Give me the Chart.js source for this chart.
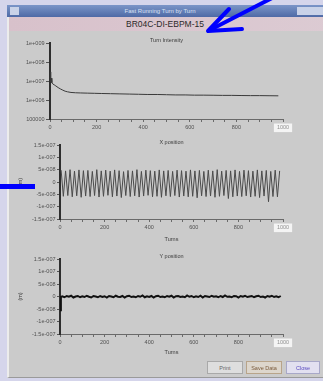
<!DOCTYPE html>
<html>
<head>
<meta charset="utf-8">
<title>Fast Running Turn by Turn</title>
<script src="https://cdn.jsdelivr.net/npm/chart.js@4.4.1/dist/chart.umd.min.js"></script>
<style>
  html, body { margin:0; padding:0; }
  body { width:323px; height:381px; overflow:hidden; position:relative; background:#d5d5eb; font-family:"Liberation Sans", Arial, sans-serif; }
  .abs { position:absolute; }
  #win { left:7px; top:5px; width:330px; height:373px; background:#cbcbcb; border-left:2px solid #ececec; border-bottom:1px solid #9a9a9a; box-sizing:border-box; }
  #titlebar { left:7px; top:5px; width:330px; height:12px; background:linear-gradient(#7b95c8,#4e6aa6); }
  #titletext { left:7px; top:5px; width:306px; height:12px; line-height:12px; text-align:center; color:#d8e0f3; font-size:6px; }
  #icon { left:10px; top:7px; width:9px; height:8px; background:#c9d2e8; }
  #icons { left:297px; top:7px; width:26px; height:8px; background:#c9d2e8; }
  #header { left:9px; top:17px; width:330px; height:14px; background:linear-gradient(to right,#d8c1cb,#dccbd3); }
  #headertext { left:9px; top:17px; width:312px; height:14px; line-height:14px; text-align:center; color:#2a2a2a; font-size:8.5px; }
  .btn { height:13px; top:361px; line-height:13px; text-align:center; font-size:5.5px; box-sizing:border-box; border:1px solid #a9a9a9; background:#dedede; color:#666; }
  canvas { position:absolute; }
  #overlay { left:0; top:0; z-index:10; }
</style>
</head>
<body>
<div id="win" class="abs"></div>
<div id="titlebar" class="abs"></div>
<div id="icon" class="abs"></div>
<div id="icons" class="abs"></div>
<div id="titletext" class="abs">Fast Running Turn by Turn</div>
<div id="header" class="abs"></div>
<div id="headertext" class="abs">BR04C-DI-EBPM-15</div>

<canvas id="c1" width="300" height="104" style="left:10px;top:34px"></canvas>
<canvas id="c2" width="300" height="108" style="left:10px;top:135px"></canvas>
<canvas id="c3" width="300" height="108" style="left:10px;top:249px"></canvas>

<div class="abs btn" style="left:207px;width:36px;">Print</div>
<div class="abs btn" style="left:246px;width:36px;border-color:#b8a48a;color:#7a5a3a;background:#ddd6cc;">Save Data</div>
<div class="abs btn" style="left:286px;width:34px;background:#e2e0f0;color:#5a4ac0;border-color:#a8a8c8;">Close</div>

<svg id="overlay" class="abs" width="323" height="381">
  <line x1="274" y1="-3" x2="210" y2="30" stroke="#0000ff" stroke-width="4" stroke-linecap="round"/>
  <polyline points="229,9 208,31 242,29" fill="none" stroke="#0000ff" stroke-width="4" stroke-linejoin="round" stroke-linecap="round"/>
  <rect x="0" y="184" width="35" height="5" fill="#0000ff"/>
</svg>

<script>
// ---------- data ----------
const intensityTurns = [0, 2, 4, 6, 8, 12, 18, 25, 35, 45, 55, 65, 75, 90, 110, 130, 160, 190, 220, 260, 300, 340, 380, 420, 460, 500, 540, 580, 620, 660, 700, 740, 780, 820, 860, 900, 940, 980];
const intensityValues = [1.2e7, 3.0e7, 9e6, 1.4e7, 8e6, 7e6, 6.3e6, 5.5e6, 4.5e6, 3.8e6, 3.3e6, 2.9e6, 2.7e6, 2.5e6, 2.4e6, 2.35e6, 2.3e6, 2.25e6, 2.2e6, 2.15e6, 2.1e6, 2.05e6, 2.0e6, 1.95e6, 1.95e6, 1.9e6, 1.85e6, 1.85e6, 1.8e6, 1.8e6, 1.78e6, 1.75e6, 1.75e6, 1.72e6, 1.7e6, 1.7e6, 1.68e6, 1.66e6];

const xPosTurns = [5,15,25,35,45,55,65,75,85,95,105,115,125,135,145,155,165,175,185,195,205,215,225,235,245,255,265,275,285,295,305,315,325,335,345,355,365,375,385,395,405,415,425,435,445,455,465,475,485,495,505,515,525,535,545,555,565,575,585,595,605,615,625,635,645,655,665,675,685,695,705,715,725,735,745,755,765,775,785,795,805,815,825,835,845,855,865,875,885,895,905,915,925,935,945,955,965,975,985];
// X position in nanometres
const xPosNm = [48,-58,45,-55,50,-60,44,-56,49,-62,46,-57,47,-59,43,-55,50,-61,45,-58,48,-54,44,-60,49,-57,46,-63,42,-55,47,-59,45,-56,50,-61,43,-57,48,-54,46,-60,44,-58,49,-62,45,-56,47,-59,43,-55,48,-61,46,-57,44,-60,49,-58,45,-64,47,-56,43,-59,48,-57,45,-62,50,-58,44,-55,47,-67,45,-60,49,-57,43,-59,48,-56,46,-61,44,-58,49,-63,45,-57,47,-80,43,-59,48,-60,45];

const yPosTurns = [0,4,10,20,30,40,50,60,70,80,90,100,110,120,130,140,150,160,170,180,190,200,210,220,230,240,250,260,270,280,290,300,310,320,330,340,350,360,370,380,390,400,410,420,430,440,450,460,470,480,490,500,510,520,530,540,550,560,570,580,590,600,610,620,630,640,650,660,670,680,690,700,710,720,730,740,750,760,770,780,790,800,810,820,830,840,850,860,870,880,890,900,910,920,930,940,950,960,970,980,990];
// Y position in nanometres
const yPosNm = [-55,-2,1,-3,2,-1,3,-4,0,2,-3,1,-2,3,-1,-4,2,0,-3,2,-2,1,-4,2,0,-3,3,-1,-2,2,-4,1,3,-2,0,-3,2,-1,4,-3,1,-2,2,-4,1,3,-2,0,-3,2,-1,3,-4,1,2,-2,0,-3,4,-1,2,-3,1,-2,3,-4,2,0,-2,3,-1,1,-3,2,-2,4,-1,0,-3,2,1,-4,2,-1,3,-2,0,2,-3,1,3,-2,0,-4,2,-1,3,-2,1,-3,2];

// ---------- ticks ----------
const turnTicks = [0,50,100,150,200,250,300,350,400,450,500,550,600,650,700,750,800,850,900,950,1000];
const turnLabelValues = [0,200,400,600,800,1000];
const turnTickLabels = ['0','200','400','600','800','1000'];
const intensityTickValues = [1e5, 1e6, 1e7, 1e8, 1e9];
const intensityTickLabels = ['100000','1e+006','1e+007','1e+008','1e+009'];
const posTickValues = [-150,-100,-50,0,50,100,150];
const posTickLabels = ['-1.5e-007','-1e-007','-5e-008','0','5e-008','1e-007','1.5e-007'];

// ---------- helpers ----------
const FONT = {family:'"Liberation Sans", Arial, sans-serif', size:5.5, lineHeight:1.2};
const TXT = '#505050';

function topTitleAxis(text, h, padTop) {
  return {
    type:'linear', position:'top', min:0, max:1,
    grid:{display:false}, border:{display:false}, ticks:{display:false},
    title:{display:true, text:text, color:'#3c3c3c', font:FONT, padding:{top:padTop, bottom:0}},
    afterFit(s){ s.height = h; }
  };
}
function turnAxis(h, titlePadBottom) {
  const ax = {
    type:'linear', position:'bottom', min:0, max:1000,
    afterFit(s){ s.height = h; },
    afterBuildTicks(s){ s.ticks = turnTicks.map(v => ({value:v})); },
    ticks:{
      autoSkip:false, maxRotation:0, padding:2.5, font:FONT,
      color: c => (c.tick && c.tick.value === 1000) ? '#909090' : TXT,
      callback: v => { const i = turnLabelValues.indexOf(v); return i >= 0 ? turnTickLabels[i] : ''; },
      showLabelBackdrop: c => !!(c.tick && c.tick.value === 1000),
      backdropColor:'#f4f4f4',
      backdropPadding:{top:1, bottom:1, left:3, right:3}
    },
    grid:{display:true, drawOnChartArea:false, drawTicks:true, tickLength:3, color:'#6a6a6a'},
    border:{display:true, color:'#6a6a6a', width:1}
  };
  if (titlePadBottom !== undefined) {
    ax.title = {display:true, text:'Turns', color:'#3c3c3c', font:FONT, padding:{top:0, bottom:titlePadBottom}};
  }
  return ax;
}
function posAxis() {
  return {
    type:'linear', position:'left', min:-150, max:150,
    afterFit(s){ s.width = 50; },
    afterBuildTicks(s){ s.ticks = posTickValues.map(v => ({value:v})); },
    ticks:{font:FONT, color:TXT, padding:1.5, callback:(v, i) => posTickLabels[i]},
    grid:{display:true, drawOnChartArea:false, tickLength:3, color:'#555'},
    border:{display:true, color:'#2e2e2e', width:2},
    title:{display:true, text:'(m)', color:'#3c3c3c', font:FONT, padding:{top:7.2, bottom:0}}
  };
}
function pts(xs, ys, k) { return xs.map((x, i) => ({x:x, y:ys[i] * (k || 1)})); }
const common = {
  responsive:false, animation:false, devicePixelRatio:1,
  plugins:{legend:{display:false}, tooltip:{enabled:false}, title:{display:false}},
  layout:{padding:{left:0, right:27, top:0, bottom:0}},
  elements:{point:{radius:0}, line:{tension:0}}
};

// ---------- chart 1: Turn Intensity ----------
new Chart(document.getElementById('c1'), {
  type:'line',
  data:{datasets:[{data:pts(intensityTurns, intensityValues), borderColor:'#3a3a3a', borderWidth:1, pointRadius:0}]},
  options:Object.assign({}, common, {
    scales:{
      x:turnAxis(19),
      x2:topTitleAxis('Turn Intensity', 9, 3),
      y:{
        type:'logarithmic', position:'left', min:1e5, max:1e9,
        afterFit(s){ s.width = 40; },
        afterBuildTicks(s){ s.ticks = intensityTickValues.map(v => ({value:v})); },
        ticks:{font:FONT, color:TXT, padding:1.5, callback:(v, i) => intensityTickLabels[i]},
        grid:{display:true, drawOnChartArea:false, tickLength:4, color:'#555'},
        border:{display:true, color:'#2e2e2e', width:2}
      }
    }
  })
});

// ---------- chart 2: X position ----------
new Chart(document.getElementById('c2'), {
  type:'line',
  data:{datasets:[{data:pts(xPosTurns, xPosNm), borderColor:'#4a4a4a', borderWidth:1, pointRadius:0}]},
  options:Object.assign({}, common, {
    scales:{ x:turnAxis(24, 0.7), x2:topTitleAxis('X position', 10, 3.7), y:posAxis() }
  })
});

// ---------- chart 3: Y position ----------
new Chart(document.getElementById('c3'), {
  type:'line',
  data:{datasets:[{data:pts(yPosTurns, yPosNm), borderColor:'#111111', borderWidth:2, pointRadius:0}]},
  options:Object.assign({}, common, {
    scales:{ x:turnAxis(23, 1.2), x2:topTitleAxis('Y position', 10, 3.7), y:posAxis() }
  })
});
</script>
</body>
</html>
